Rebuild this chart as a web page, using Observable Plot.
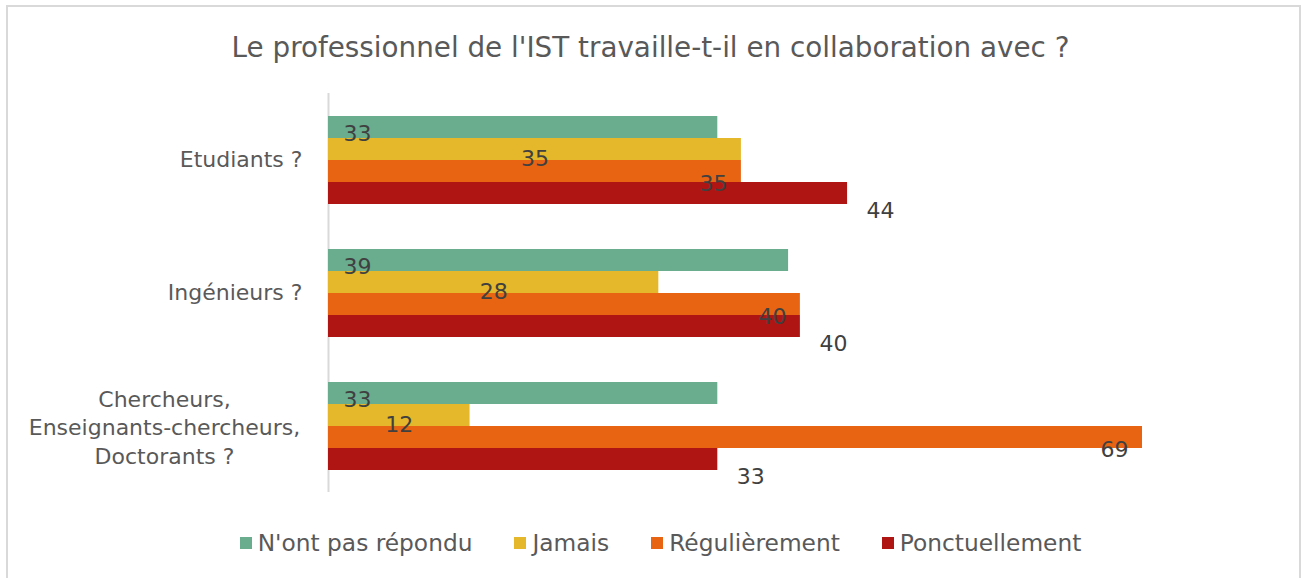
<!DOCTYPE html>
<html>
<head>
<meta charset="utf-8">
<script src="https://cdn.jsdelivr.net/npm/d3@7"></script>
<script src="https://cdn.jsdelivr.net/npm/@observablehq/plot@0.6"></script>
<style>
  html, body { margin: 0; padding: 0; background: #fff; }
  body { font-family: "DejaVu Sans", sans-serif; width: 1301px; height: 578px; position: relative; overflow: hidden; }
  #frame { position: absolute; left: 6px; top: 5px; width: 1295px; height: 620px; border: 2px solid #d9d9d9; box-sizing: border-box; }
  #title { position: absolute; left: 0; top: 34px; width: 1301px; text-align: center; font-size: 27.8px; line-height: 28px; color: #595959; }
  #chart { position: absolute; left: 0; top: 80px; }
  #legend { position: absolute; left: 10px; top: 530px; width: 1301px; display: flex; justify-content: center; align-items: center; font-size: 23.3px; line-height: 26px; color: #595959; }
  .item { display: flex; align-items: center; margin: 0 21px; }
  .sw { width: 12px; height: 12px; margin-right: 6px; }
</style>
</head>
<body>
<div id="frame"></div>
<div id="title">Le professionnel de l'IST travaille-t-il en collaboration avec ?</div>
<div id="chart"></div>
<div id="legend"></div>
<script>
const categories = ["Etudiants ?", "Ingénieurs ?", "Chercheurs,\nEnseignants-chercheurs,\nDoctorants ?"];
const series = ["N'ont pas répondu", "Jamais", "Régulièrement", "Ponctuellement"];
const colors = ["#69ad8e", "#e5b72a", "#e86413", "#ae1513"];
const nontRepondu = [33, 39, 33];
const jamais = [35, 28, 12];
const regulierement = [35, 40, 69];
const ponctuellement = [44, 40, 33];

const valuesBySeries = [nontRepondu, jamais, regulierement, ponctuellement];
const data = [];
series.forEach((s, si) => categories.forEach((c, ci) => data.push({category: c, series: s, value: valuesBySeries[si][ci]})));

const labelStyle = {fontSize: 22, fill: "#404040", fontFamily: "DejaVu Sans"};
const bySeries = (s) => data.filter(d => d.series === s);

const chart = Plot.plot({
  width: 1301,
  height: 430,
  marginLeft: 328,
  marginRight: 159,
  marginTop: 13,
  marginBottom: 18,
  style: {fontFamily: "DejaVu Sans", background: "transparent"},
  x: {domain: [0, 69], axis: null},
  y: {domain: series, axis: null, padding: 0},
  fy: {domain: categories, paddingInner: 0.316, paddingOuter: 0.154, label: null},
  color: {domain: series, range: colors},
  marks: [
    Plot.ruleX([0], {stroke: "#d9d9d9", strokeWidth: 2, insetTop: -21, insetBottom: -21}),
    Plot.barX(data, {x: "value", y: "series", fy: "category", fill: "series"}),
    Plot.text(bySeries(series[0]), {x: () => 0, y: "series", fy: "category", text: d => String(d.value), textAnchor: "start", dx: 15, dy: 6, ...labelStyle}),
    Plot.text(bySeries(series[1]), {x: d => d.value / 2, y: "series", fy: "category", text: d => String(d.value), textAnchor: "middle", dy: 9.5, ...labelStyle}),
    Plot.text(bySeries(series[2]), {x: "value", y: "series", fy: "category", text: d => String(d.value), textAnchor: "end", dx: -14, dy: 12.5, ...labelStyle}),
    Plot.text(bySeries(series[3]), {x: "value", y: "series", fy: "category", text: d => String(d.value), textAnchor: "start", dx: 19, dy: 17.5, ...labelStyle}),
    Plot.axisFy({anchor: "left", ticks: categories.slice(0, 2), tickSize: 0, tickPadding: 26, textAnchor: "end", fontSize: 22, color: "#595959", label: null}),
    Plot.axisFy({anchor: "left", ticks: categories.slice(2), tickSize: 0, tickPadding: 25, textAnchor: "middle", dx: -139, fontSize: 22, lineHeight: 1.3, color: "#595959", label: null})
  ]
});
document.getElementById("chart").appendChild(chart);

const legend = document.getElementById("legend");
series.forEach((s, i) => {
  const item = document.createElement("div");
  item.className = "item";
  const sw = document.createElement("span");
  sw.className = "sw";
  sw.style.background = colors[i];
  const t = document.createElement("span");
  t.textContent = s;
  item.appendChild(sw);
  item.appendChild(t);
  legend.appendChild(item);
});
</script>
</body>
</html>
